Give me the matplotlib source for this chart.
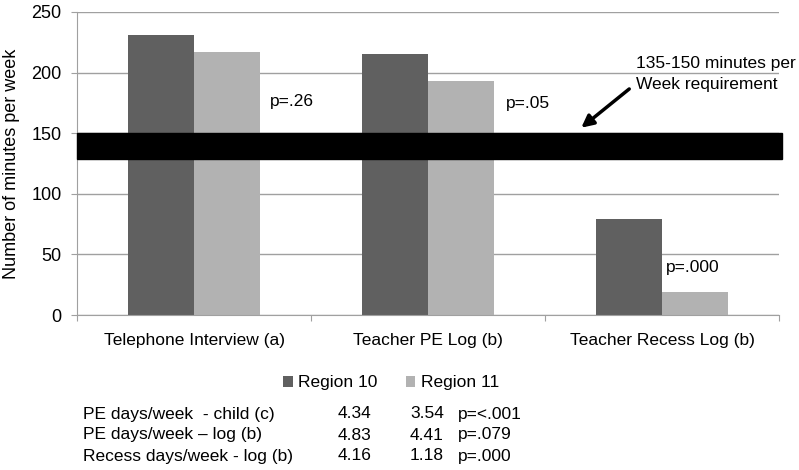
import numpy as np
import matplotlib.pyplot as plt

categories = ["Telephone Interview (a)", "Teacher PE Log (b)", "Teacher Recess Log (b)"]
region10 = [231, 215, 79]
region11 = [217, 193, 19]
p_labels = ["p=.26", "p=.05", "p=.000"]
band_low, band_high = 129, 150

table_rows = ["PE days/week  - child (c)", "PE days/week \u2013 log (b)", "Recess days/week - log (b)"]
table_r10 = ["4.34", "4.83", "4.16"]
table_r11 = ["3.54", "4.41", "1.18"]
table_p = ["p=<.001", "p=.079", "p=.000"]

plt.rcParams["font.family"] = ["Liberation Sans", "DejaVu Sans"]
plt.rcParams["font.size"] = 12.5

fig = plt.figure(figsize=(7.99, 4.70), dpi=100)
ax = fig.add_axes([77 / 799, 1 - 315 / 470, (779 - 77) / 799, (315 - 12) / 470])

x = np.arange(len(categories))
w = 0.284
b1 = ax.bar(x - w / 2, region10, width=w, color="#606060", label="Region 10", zorder=2)
b2 = ax.bar(x + w / 2, region11, width=w, color="#b2b2b2", label="Region 11", zorder=2)

# requirement band
ax.axhspan(band_low, band_high, xmin=0, xmax=1.004, color="black", zorder=3, clip_on=False)

ax.set_xlim(-0.5, 2.5)
ax.set_ylim(0, 250)
ax.set_yticks(range(0, 251, 50))
ax.yaxis.grid(True, color="#a0a0a0", linewidth=1, zorder=0)
ax.set_axisbelow(True)
ax.tick_params(axis="y", length=4, color="#a0a0a0", pad=7, labelsize=13)
ax.set_xticks([-0.5, 0.5, 1.5, 2.5])
ax.set_xticklabels([])
ax.tick_params(axis="x", length=4, color="#a0a0a0")
ax.set_xticks(x, minor=True)
ax.set_xticklabels(categories, minor=True)
ax.tick_params(axis="x", which="minor", length=0, pad=13, labelsize=12.5)
for s in ["top", "right"]:
    ax.spines[s].set_visible(False)
ax.spines["left"].set_color("#a0a0a0")
ax.spines["bottom"].set_color("#a0a0a0")
ax.set_ylabel("Number of minutes per week", fontsize=13, labelpad=8)

# p-value labels
p_pos = [(0.325, 176.5), (1.335, 174.5), (2.015, 39.5)]
for (px, py), t in zip(p_pos, p_labels):
    ax.text(px, py, t, ha="left", va="center", fontsize=12.5)

ax.text(1.89, 199, "135-150 minutes per\nWeek requirement", ha="left", va="center",
        fontsize=12.5, linespacing=1.45)
ax.annotate("", xy=(1.655, 154.5), xytext=(1.86, 186.5),
            arrowprops=dict(arrowstyle="-|>", color="black", lw=2.5, mutation_scale=18,
                            shrinkA=0, shrinkB=0))

fig.legend(handles=[b1, b2], loc="center", bbox_to_anchor=(391 / 799, 1 - 383 / 470),
           ncol=2, frameon=False, handlelength=0.55, handleheight=0.55, handletextpad=0.3,
           columnspacing=1.65, fontsize=12.5, borderpad=0)

for i, row in enumerate(table_rows):
    yy = 1 - (414 + 21 * i) / 470
    fig.text(83 / 799, yy, row, ha="left", va="center", fontsize=12.5)
    fig.text(355 / 799, yy, table_r10[i], ha="center", va="center", fontsize=12.5)
    fig.text(427 / 799, yy, table_r11[i], ha="center", va="center", fontsize=12.5)
    fig.text(458 / 799, yy, table_p[i], ha="left", va="center", fontsize=12.5)

fig.savefig("out.png", dpi=100)
